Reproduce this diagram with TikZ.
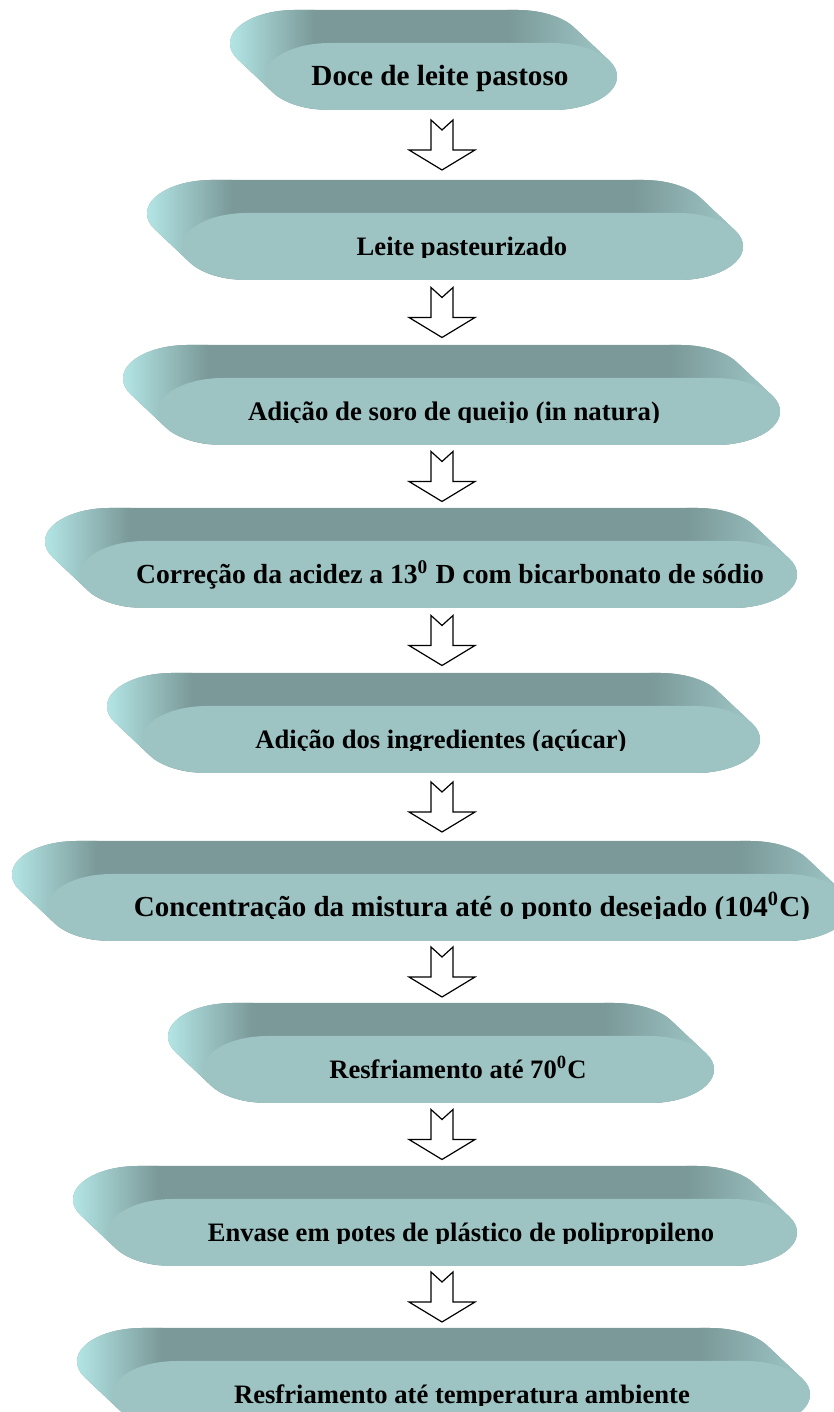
\documentclass[tikz,border=0pt]{standalone}
\usepackage{fontspec}
\setmainfont{Liberation Serif}
\usetikzlibrary{calc}

\definecolor{frontface}{HTML}{9DC3C3}
\definecolor{topface}{HTML}{7A9998}
\definecolor{endlight}{HTML}{B4E6E6}
\definecolor{endright}{HTML}{A2CACA}

\tikzset{
  steptext/.style={anchor=base, inner sep=0pt, font=\bfseries},
  blockarrow/.style={draw=black, fill=white, line width=0.6pt, line join=miter},
}

\newcommand{\flowbody}[8]{%
  \pgfmathsetmacro{\fbL}{#2}%
  \pgfmathsetmacro{\fbR}{#3}%
  \pgfmathsetmacro{\fbT}{1412-#4-33}%
  \pgfmathsetmacro{\fbB}{1412-#4-100}%
  \pgfmathsetmacro{\fbH}{(\fbT-\fbB)/2}%
  \pgfmathsetmacro{\fbC}{(\fbT+\fbB)/2}%
  \pgfmathsetmacro{\fbA}{atan(35*\fbH/(33*65))}%
  \begin{scope}
    \clip (\fbL+65,\fbC) ++(180+\fbA:65 and \fbH)
      arc[start angle=180+\fbA, end angle=270, x radius=65, y radius=\fbH]
      -- (\fbR-65,\fbB)
      arc[start angle=270, end angle=360+\fbA, x radius=65, y radius=\fbH]
      -- ++(-35,33)
      arc[start angle=\fbA, end angle=90, x radius=65, y radius=\fbH]
      -- (\fbL+30,\fbT+33)
      arc[start angle=90, end angle=180+\fbA, x radius=65, y radius=\fbH]
      -- cycle;
    \fill[topface] (\fbL-40,\fbB-2) rectangle (\fbR+2,\fbT+36);
    \shade[left color=endlight, right color=topface] (\fbL-36,\fbB-2) rectangle (\fbL+50,\fbT+36);
    \shade[left color=topface, right color=endright] (\fbR-110,\fbB-2) rectangle (\fbR+2,\fbT+36);
  \end{scope}
  \fill[frontface] (\fbL+65,\fbT)
    arc[start angle=90, end angle=270, x radius=65, y radius=\fbH]
    -- (\fbR-65,\fbB)
    arc[start angle=270, end angle=450, x radius=65, y radius=\fbH] -- cycle;
  \begin{scope}
    \clip (0,\fbC-9-#7) rectangle (834,\fbT+33);
    \node[steptext] (#1) at (#5,\fbC-9) {\scalebox{#6}{#8}};
  \end{scope}
  \coordinate (top#1) at (442,\fbT+33);
  \coordinate (bot#1) at (442,\fbB);
}

\begin{document}
\begin{tikzpicture}[x=0.5pt,y=0.5pt]

  \useasboundingbox (0,0) rectangle (834,1412);
  \fill[white] (0,0) rectangle (834,1412);
  \clip (0,0) rectangle (834,1412);

  \flowbody{1}{265}{617}{10}{440}{1.46}{20}{Doce de leite pastoso}
  \flowbody{2}{182}{743}{180}{462}{1.33}{2.5}{Leite pasteurizado}
  \flowbody{3}{158}{780}{345}{454}{1.34}{2.5}{Adição de soro de queijo (in natura)}
  \flowbody{4}{80}{797}{508}{450}{1.38}{20}{Correção da acidez a 13\textsuperscript{0} D com bicarbonato de sódio}
  \flowbody{5}{142}{760}{673}{441}{1.33}{2.5}{Adição dos ingredientes (açúcar)}
  \flowbody{6}{47}{850}{841}{472}{1.45}{2.5}{Concentração da mistura até o ponto desejado (104\textsuperscript{0}C)}
  \flowbody{7}{203}{714}{1003}{458}{1.33}{20}{Resfriamento até 70\textsuperscript{0}C}
  \flowbody{8}{108}{797}{1166}{461}{1.33}{2.5}{Envase em potes de plástico de polipropileno}
  \flowbody{9}{112}{810}{1328}{462}{1.33}{2.5}{Resfriamento até temperatura ambiente}

  \draw[blockarrow] ($(bot1)!0.5!(top2)$) ++(-11,25) -- ++(11,-10) -- ++(11,10) -- ++(0,-30) -- ++(22,0) -- ++(-33,-20) -- ++(-33,20) -- ++(22,0) -- cycle;
  \draw[blockarrow] ($(bot2)!0.5!(top3)$) ++(-11,25) -- ++(11,-10) -- ++(11,10) -- ++(0,-30) -- ++(22,0) -- ++(-33,-20) -- ++(-33,20) -- ++(22,0) -- cycle;
  \draw[blockarrow] ($(bot3)!0.5!(top4)$) ++(-11,25) -- ++(11,-10) -- ++(11,10) -- ++(0,-30) -- ++(22,0) -- ++(-33,-20) -- ++(-33,20) -- ++(22,0) -- cycle;
  \draw[blockarrow] ($(bot4)!0.5!(top5)$) ++(-11,25) -- ++(11,-10) -- ++(11,10) -- ++(0,-30) -- ++(22,0) -- ++(-33,-20) -- ++(-33,20) -- ++(22,0) -- cycle;
  \draw[blockarrow] ($(bot5)!0.5!(top6)$) ++(-11,25) -- ++(11,-10) -- ++(11,10) -- ++(0,-30) -- ++(22,0) -- ++(-33,-20) -- ++(-33,20) -- ++(22,0) -- cycle;
  \draw[blockarrow] ($(bot6)!0.5!(top7)$) ++(-11,25) -- ++(11,-10) -- ++(11,10) -- ++(0,-30) -- ++(22,0) -- ++(-33,-20) -- ++(-33,20) -- ++(22,0) -- cycle;
  \draw[blockarrow] ($(bot7)!0.5!(top8)$) ++(-11,25) -- ++(11,-10) -- ++(11,10) -- ++(0,-30) -- ++(22,0) -- ++(-33,-20) -- ++(-33,20) -- ++(22,0) -- cycle;
  \draw[blockarrow] ($(bot8)!0.5!(top9)$) ++(-11,25) -- ++(11,-10) -- ++(11,10) -- ++(0,-30) -- ++(22,0) -- ++(-33,-20) -- ++(-33,20) -- ++(22,0) -- cycle;

\end{tikzpicture}
\end{document}
